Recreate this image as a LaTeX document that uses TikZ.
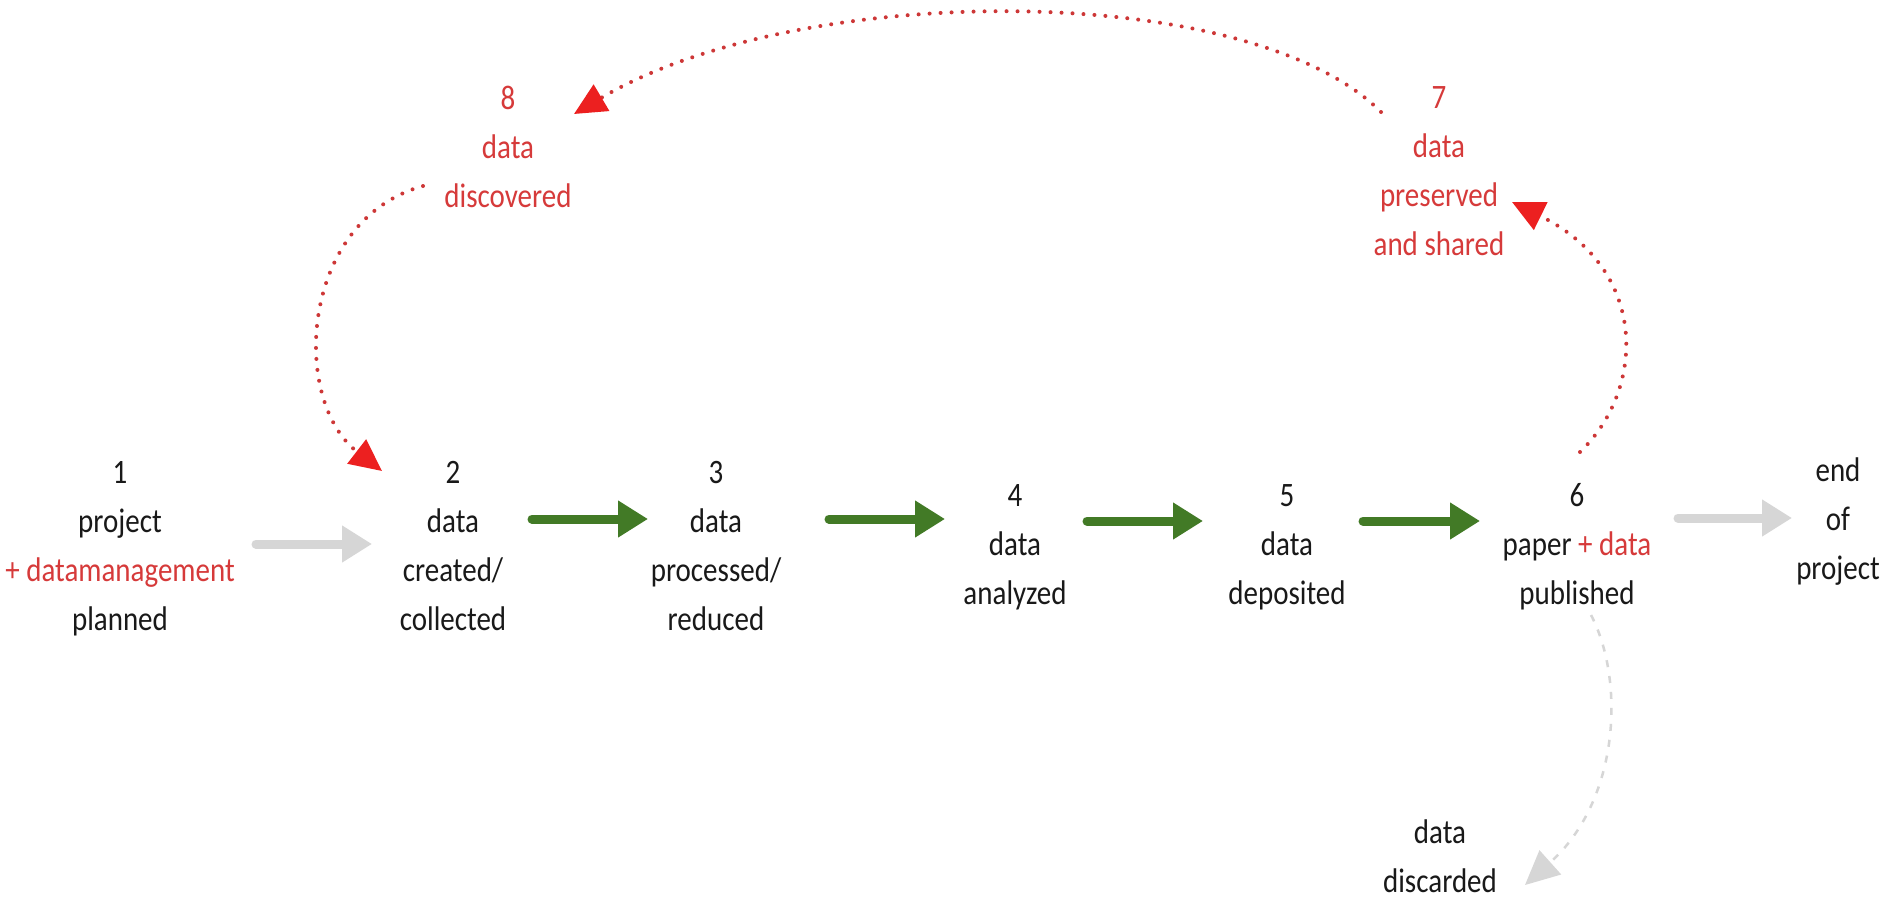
\documentclass[tikz,border=0pt]{standalone}
\usepackage{fontspec}
\usepackage{graphicx}
\setmainfont{Carlito}
\usetikzlibrary{arrows.meta}
\definecolor{txtred}{RGB}{214,58,58}
\definecolor{dotred}{RGB}{205,55,55}
\definecolor{tipred}{RGB}{236,32,32}
\definecolor{arrgreen}{RGB}{66,122,38}
\definecolor{arrgray}{RGB}{214,214,214}
\definecolor{txtblack}{RGB}{25,25,25}
\newcommand\mlines[1]{\scalebox{1}[1.18]{\fontsize{29}{41.5}\selectfont\begin{tabular}{@{}c@{}}#1\end{tabular}}}
\tikzset{
  lbl/.style={inner sep=0pt, text=txtblack},
  redlbl/.style={lbl, text=txtred},
  flowarrow/.style={line width=9pt, line cap=round, arrgreen, -{Triangle[length=30pt,width=35pt]}},
  grayarrow/.style={flowarrow, arrgray},
  reddots/.style={line width=4pt, dotred, line cap=round, dash pattern=on 0pt off 11pt,
     -{Triangle[length=32pt,width=30pt,color=tipred]}},
  graydash/.style={line width=2.5pt, arrgray, dash pattern=on 7pt off 9pt,
     -{Triangle[length=34pt,width=32pt,color=arrgray]}}
}
\begin{document}
\begin{tikzpicture}[x=1pt,y=-1pt]
\useasboundingbox (0,0) rectangle (1883,903);
\fill[white] (0,0) rectangle (1883,903);
% nodes
\node[lbl] (n1) at (120,547) {\mlines{1\\project\\\textcolor{txtred}{+ datamanagement}\\planned}};
\node[lbl] (n2) at (453,547) {\mlines{2\\data\\created/\\collected}};
\node[lbl] (n3) at (716,547) {\mlines{3\\data\\processed/\\reduced}};
\node[lbl] (n4) at (1015,546) {\mlines{4\\data\\analyzed}};
\node[lbl] (n5) at (1287,546) {\mlines{5\\data\\deposited}};
\node[lbl] (n6) at (1577,546) {\mlines{6\\paper \textcolor{txtred}{+ data}\\published}};
\node[lbl] (nend) at (1838,521) {\mlines{end\\of\\project}};
\node[lbl] (ndisc) at (1440,858) {\mlines{data\\discarded}};
\node[redlbl] (n7) at (1439,172) {\mlines{7\\data\\preserved\\and shared}};
\node[redlbl] (n8) at (508,149) {\mlines{8\\data\\discovered}};
% arrow end points
\coordinate (a12s) at (256,544); \coordinate (a12e) at (372,544);
\coordinate (a23s) at (532,519); \coordinate (a23e) at (648,519);
\coordinate (a34s) at (829,519); \coordinate (a34e) at (945,519);
\coordinate (a45s) at (1087,521); \coordinate (a45e) at (1203,521);
\coordinate (a56s) at (1363,521); \coordinate (a56e) at (1480,521);
\coordinate (a6es) at (1678,518); \coordinate (a6ee) at (1792,518);
\draw[grayarrow] (a12s) -- (a12e);
\draw[flowarrow] (a23s) -- (a23e);
\draw[flowarrow] (a34s) -- (a34e);
\draw[flowarrow] (a45s) -- (a45e);
\draw[flowarrow] (a56s) -- (a56e);
\draw[grayarrow] (a6es) -- (a6ee);
% curved connectors
\coordinate (c6s) at (1580,452); \coordinate (c7e) at (1512,202);
\draw[reddots] (c6s) .. controls (1645,390) and (1650,270) .. (c7e);
\coordinate (c7s) at (1381,112); \coordinate (c8e) at (574,114);
\draw[reddots] (c7s) .. controls (1250,-20) and (800,-20) .. (c8e);
\coordinate (c8s) at (423,186); \coordinate (c2e) at (382,471);
\draw[reddots] (c8s) .. controls (300,220) and (290,400) .. (c2e);
\coordinate (c6d) at (1591,615); \coordinate (cde) at (1525,885);
\draw[graydash] (c6d) .. controls (1625,680) and (1620,800) .. (cde);
\end{tikzpicture}
\end{document}
